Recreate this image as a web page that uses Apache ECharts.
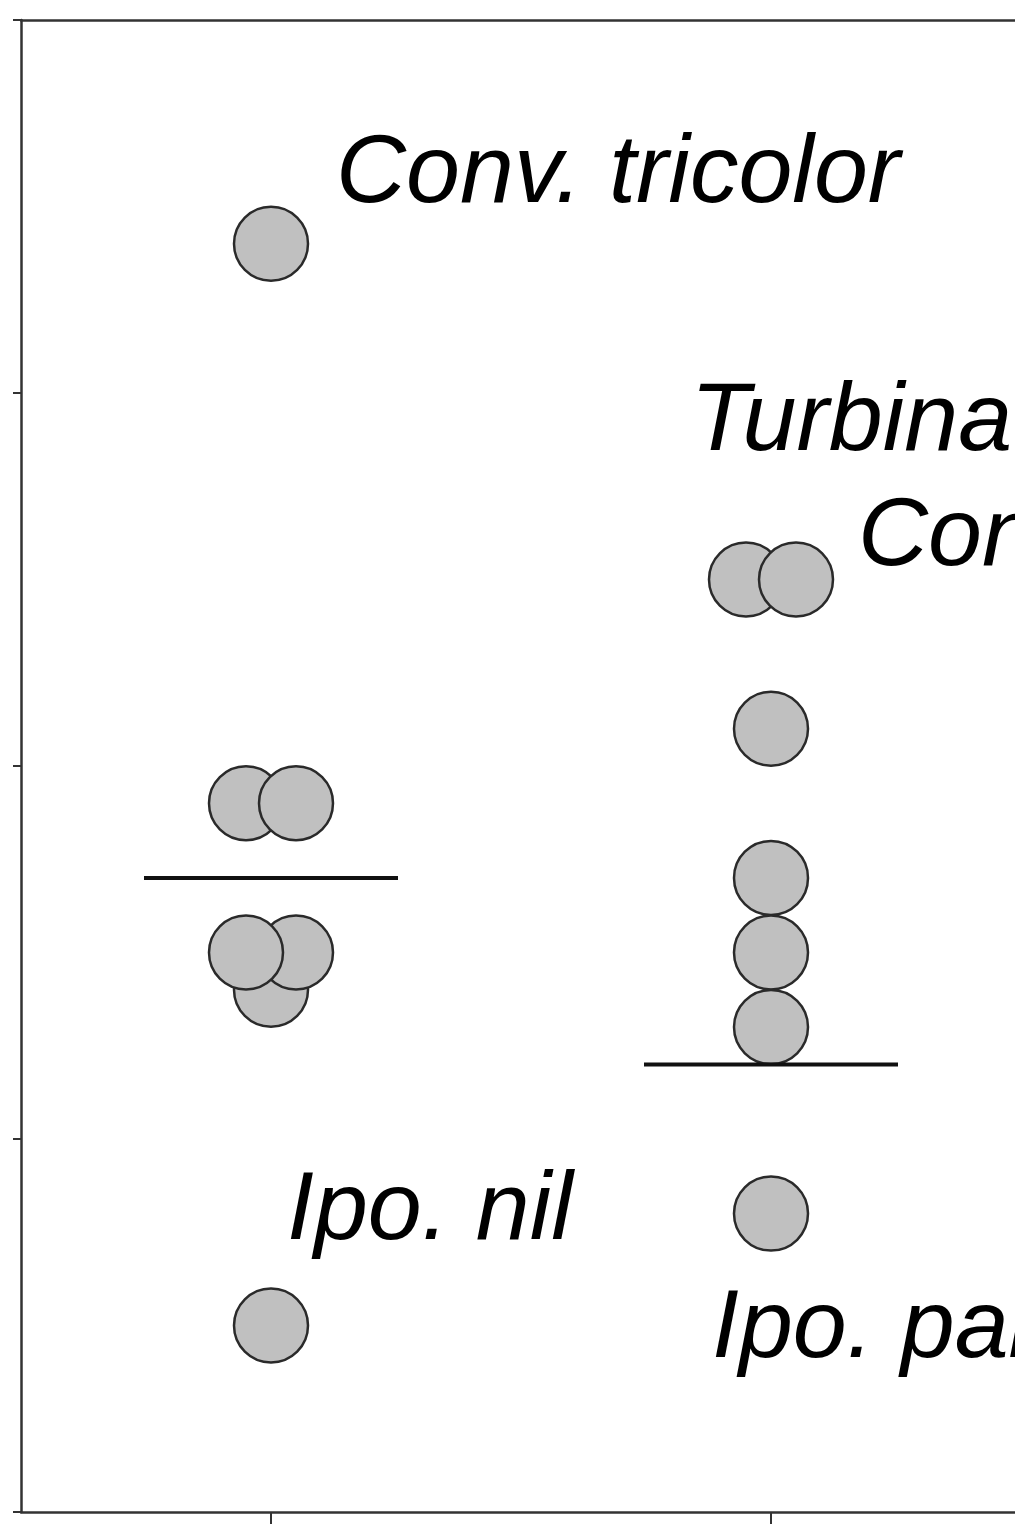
<!DOCTYPE html>
<html>
<head>
<meta charset="utf-8">
<script src="https://cdn.jsdelivr.net/npm/echarts@6/dist/echarts.min.js"></script>
<style>
  html, body { margin: 0; padding: 0; background: #fff; }
  #chart { width: 1015px; height: 1524px; }
</style>
</head>
<body>
<div id="chart"></div>
<script>
// points of each group: x (group position + small offset), y value
const groupAX = [0.95, 1.05, 1.0, 1.05, 0.95, 1.0, 1.0];
const groupAY = [1.9, 1.9, 1.4, 1.5, 1.5, 3.4, 0.5];
const groupBX = [1.95, 2.05, 2.0, 2.0, 2.0, 2.0, 2.0];
const groupBY = [2.5, 2.5, 2.1, 1.7, 1.5, 1.3, 0.8];

// group mean bars
const meanX = [1, 2];
const meanY = [1.7, 1.2];

// species labels: [x, y, text]
const labelX = [1.13, 1.839, 2.174, 1.032, 1.882];
const labelY = [3.585, 2.92, 2.611, 0.804, 0.488];
const labelText = ['Conv. tricolor', 'Turbina', 'Conv.', 'Ipo. nil', 'Ipo. par'];

const catTicks = [1, 2];

var myChart = echarts.init(document.getElementById('chart'));

const dotStyle = {
  color: '#c0c0c0',
  borderColor: '#2a2a2a',
  borderWidth: 2.5,
  opacity: 1,
};

const meanSeries = meanX.map((x, i) => {
  return {
    type: 'line',
    data: [[x - 0.254, meanY[i]], [x + 0.254, meanY[i]]],
    symbol: 'none',
    lineStyle: { color: '#111', width: 4 },
    z: 5,
    silent: true,
  };
});

const option = {
  animation: false,
  backgroundColor: '#fff',
  grid: {
    left: 21,
    top: 20,
    right: 0,
    bottom: 12,
  },
  xAxis: [
    {
      type: 'value',
      min: 0.5,
      max: 2.488,
      position: 'bottom',
      splitLine: { show: false },
      axisLabel: { show: false },
      axisLine: { show: true, lineStyle: { color: '#333', width: 2.5 } },
      axisTick: {
        show: true,
        customValues: catTicks,
        length: 12,
        lineStyle: { color: '#333', width: 2 },
      },
    },
    {
      type: 'value',
      min: 0.5,
      max: 2.488,
      position: 'top',
      splitLine: { show: false },
      axisLabel: { show: false },
      axisTick: { show: false },
      axisLine: { show: true, lineStyle: { color: '#333', width: 2.5 } },
    },
  ],
  yAxis: {
    type: 'value',
    min: 0,
    max: 4,
    interval: 1,
    splitLine: { show: false },
    axisLabel: { show: false },
    axisLine: { show: true, lineStyle: { color: '#333', width: 2.5 } },
    axisTick: { show: true, length: 8, lineStyle: { color: '#333', width: 2 } },
  },
  series: [
    {
      type: 'scatter',
      data: groupAX.map((x, i) => [x, groupAY[i]]),
      symbolSize: 74,
      itemStyle: dotStyle,
      z: 3,
    },
    {
      type: 'scatter',
      data: groupBX.map((x, i) => [x, groupBY[i]]),
      symbolSize: 74,
      itemStyle: dotStyle,
      z: 3,
    },
    ...meanSeries,
    {
      type: 'scatter',
      data: labelX.map((x, i) => ({ value: [x, labelY[i]], name: labelText[i] })),
      symbolSize: 0.1,
      itemStyle: { color: 'transparent' },
      silent: true,
      z: 6,
      label: {
        show: true,
        position: [0, 0],
        align: 'left',
        verticalAlign: 'middle',
        formatter: p => p.name,
        fontFamily: 'Liberation Sans',
        fontStyle: 'italic',
        fontSize: 97,
        color: '#000',
        textBorderWidth: 0,
        opacity: 1,
      },
    },
  ],
};
myChart.setOption(option);
</script>
</body>
</html>
